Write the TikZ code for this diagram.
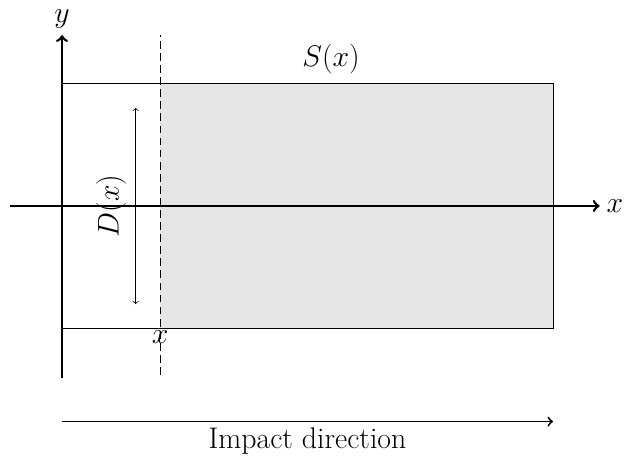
\documentclass[tikz,border=0pt]{standalone}
\usepackage{amsmath, amssymb}
\usepackage{tikz}
\usetikzlibrary{
  calc,%
  arrows,
  positioning
}
\tikzset{font=\LARGE}
\tikzset{axis/.style={->, line width=1.5pt}}

\begin{document}
\begin{tikzpicture}
          \useasboundingbox (-1.263,-5.234) rectangle (11.507,4.195);
          \fill[gray!20] (2,-2.5) rectangle (10,2.5);
          \draw[semithick] (0,-2.5) rectangle (10,2.5);
          \draw[dash pattern=on 4.5pt off 2.5pt] (2,-3.44) -- (2,3.48);
          \draw[axis] (-1.06,0) -- (10.95,0) node[right] (xlab) {$x$};
          \draw[axis] (0,-3.5) -- (0,3.48) node[above] (ylab) {$y$};
          \draw[<->] (1.5,2) -- (1.5,-2);
          \node[rotate=90] (dlab) at (1.0,0) {$D(x)$};
          \node (slab) at (5.48,2.99) {$S(x)$};
          \node[below, inner sep=1pt] (xcut) at (2,-2.5) {$x$};
          \draw[->, line width=1.1pt] (0,-4.39) -- node[midway, below] (impact) {Impact direction} (10,-4.39);
        \end{tikzpicture}
\end{document}
